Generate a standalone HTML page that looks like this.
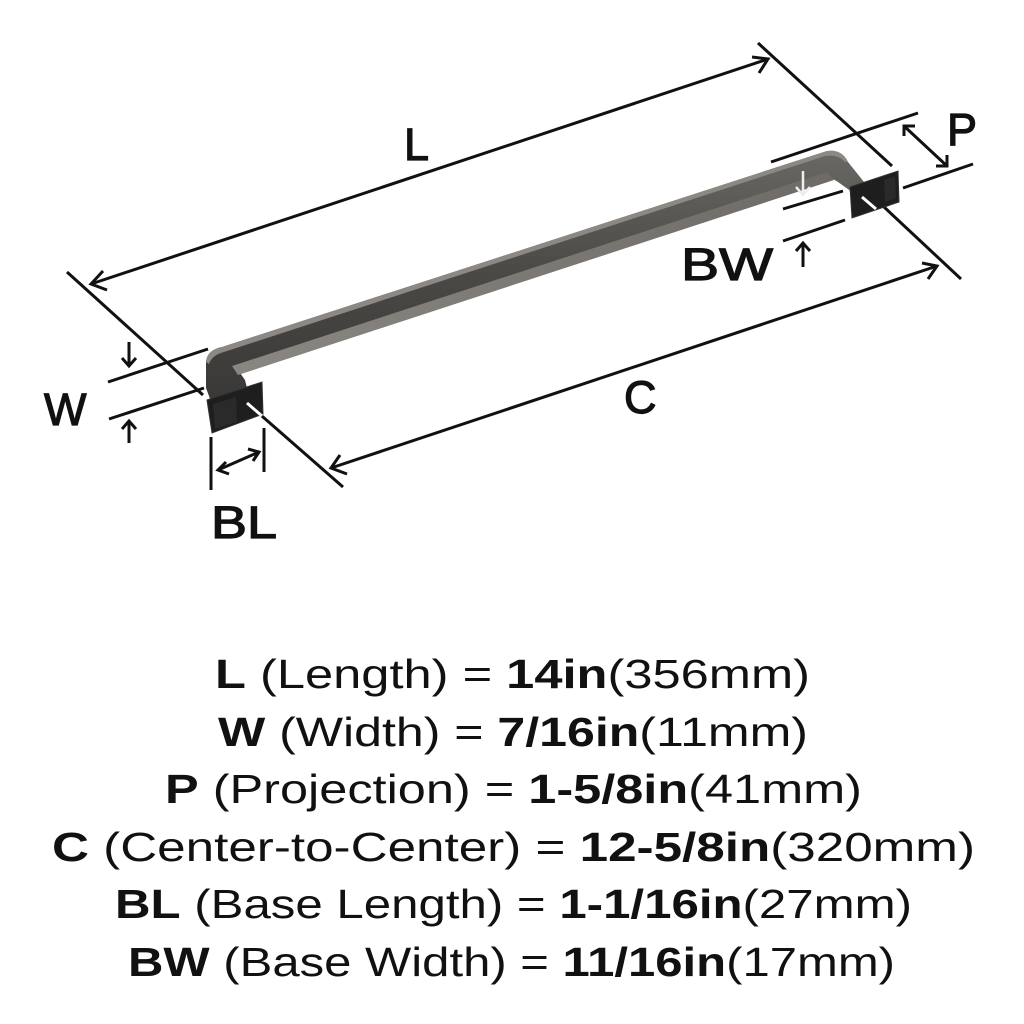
<!DOCTYPE html>
<html><head><meta charset="utf-8"><style>html,body{margin:0;padding:0;background:#fff}svg{display:block}</style></head>
<body>
<svg width="1024" height="1024" viewBox="0 0 1024 1024" xmlns="http://www.w3.org/2000/svg">
<defs>
<linearGradient id="bar" x1="0" y1="0" x2="0" y2="1">
<stop offset="0" stop-color="#6a6864"/><stop offset="0.5" stop-color="#4a4845"/><stop offset="1" stop-color="#3a3836"/>
</linearGradient>
<linearGradient id="face" x1="0" y1="0" x2="1" y2="0">
<stop offset="0" stop-color="#8a8782"/><stop offset="1" stop-color="#6e6b67"/>
</linearGradient>
</defs>
<g fill="none" stroke="#111" stroke-width="3" stroke-linecap="butt">
<line x1="67" y1="272" x2="203" y2="395"/>
<line x1="758" y1="43" x2="892" y2="166"/>
<line x1="247" y1="403" x2="343" y2="487"/>
<line x1="868" y1="192" x2="961" y2="279"/>
<line x1="108" y1="382" x2="208" y2="349"/>
<line x1="109" y1="419" x2="204" y2="388"/>
<line x1="211" y1="437" x2="211" y2="490"/>
<line x1="264" y1="428" x2="264" y2="472"/>
<line x1="771" y1="162" x2="918" y2="113"/>
<line x1="903" y1="188" x2="973" y2="164"/>
<line x1="783" y1="209" x2="843" y2="191"/>
<line x1="783" y1="241" x2="845" y2="220"/>
<line x1="91" y1="284" x2="768" y2="59"/>
<polyline points="103,271 91,284 107,290"/>
<polyline points="752,57 768,59 759,73"/>
<line x1="331" y1="468" x2="937" y2="266"/>
<polyline points="340,455 331,468 347,474"/>
<polyline points="922,263 937,266 928,279"/>
<line x1="129" y1="342" x2="129" y2="366"/><polyline points="122,358 129,366 136,358"/>
<line x1="129" y1="443" x2="129" y2="421"/><polyline points="122,429 129,421 136,429"/>
<line x1="218" y1="470" x2="259" y2="452"/>
<polyline points="226,462 218,470 229,474"/><polyline points="248,449 259,452 253,461"/>
<line x1="904" y1="126" x2="947" y2="166"/>
<polyline points="904,136 904,126 915,126"/><polyline points="936,166 947,166 947,155"/>
<line x1="803" y1="267" x2="803" y2="243"/><polyline points="796,251 803,243 810,251"/>
</g>
<path d="M206,362 Q207,350 222,347 L827,151 Q842,149 848,162 L864,182 L852,192 L838,182 L828,176 L238,370 L245,380 L247,388 L212,404 L206,388 Z" fill="url(#bar)"/>
<path d="M232,366 L827,172 L834,180 L238,375 Z" fill="url(#face)"/>
<path d="M206,362 Q207,350 222,347 L827,151 Q842,149 848,162 L845,162 Q838,154 825,156 L224,352 Q212,355 209,364 Z" fill="#8c8985"/>
<polygon points="207,400 262,382 263,414 212,433" fill="#1e1e1e" stroke="#333" stroke-width="1"/>
<polygon points="213,404 236,397 237,422 215,429" fill="#2a2a2a"/>
<polygon points="850,187 898,171 899,202 852,218" fill="#1e1e1e" stroke="#333" stroke-width="1"/>
<polygon points="884,180 895,176 896,198 885,202" fill="#2a2a2a"/>
<g stroke="#fff" stroke-width="3"><line x1="247" y1="403" x2="262" y2="416"/><line x1="862" y1="197" x2="876" y2="209"/></g>
<g stroke="#eee" stroke-width="2.5" fill="none"><line x1="803" y1="171" x2="803" y2="194"/><polyline points="796,187 803,195 810,187"/></g>
<g font-family="Liberation Sans, sans-serif" font-size="45" fill="#111" stroke="#111" stroke-width="1.2">
<text x="404" y="160">L</text>
<text x="44" y="425">W</text>
<text x="624" y="413">C</text>
<text x="211" y="538" textLength="66" lengthAdjust="spacingAndGlyphs">BL</text>
<text x="681" y="280" textLength="92" lengthAdjust="spacingAndGlyphs">BW</text>
<text x="947" y="145">P</text>
</g>
<g font-family="Liberation Sans, sans-serif" font-size="41" fill="#111">
<text x="215" y="688" textLength="595" lengthAdjust="spacingAndGlyphs"><tspan font-weight="bold">L</tspan> (Length) = <tspan font-weight="bold">14in</tspan>(356mm)</text>
<text x="218" y="746" textLength="590" lengthAdjust="spacingAndGlyphs"><tspan font-weight="bold">W</tspan> (Width) = <tspan font-weight="bold">7/16in</tspan>(11mm)</text>
<text x="165" y="803" textLength="697" lengthAdjust="spacingAndGlyphs"><tspan font-weight="bold">P</tspan> (Projection) = <tspan font-weight="bold">1-5/8in</tspan>(41mm)</text>
<text x="52" y="861" textLength="923" lengthAdjust="spacingAndGlyphs"><tspan font-weight="bold">C</tspan> (Center-to-Center) = <tspan font-weight="bold">12-5/8in</tspan>(320mm)</text>
<text x="115" y="918" textLength="797" lengthAdjust="spacingAndGlyphs"><tspan font-weight="bold">BL</tspan> (Base Length) = <tspan font-weight="bold">1-1/16in</tspan>(27mm)</text>
<text x="128" y="976" textLength="767" lengthAdjust="spacingAndGlyphs"><tspan font-weight="bold">BW</tspan> (Base Width) = <tspan font-weight="bold">11/16in</tspan>(17mm)</text>
</g>
</svg>
</body></html>
